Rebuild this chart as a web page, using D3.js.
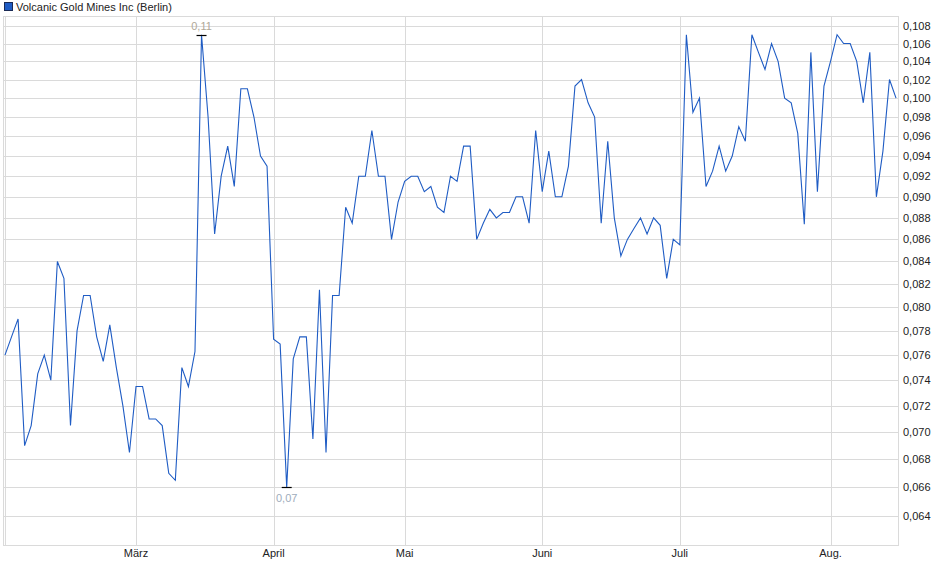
<!DOCTYPE html>
<html>
<head>
<meta charset="utf-8">
<script src="https://cdn.jsdelivr.net/npm/d3@7"></script>
<style>
body { margin: 0; background: #fff; }
text { font-family: "Liberation Sans", Arial, sans-serif; }
</style>
</head>
<body>
<div id="chart"></div>
<script>
var width = 940, height = 579;

var seriesName = "Volcanic Gold Mines Inc (Berlin)";

// closing prices per trading day (index 0 = first day shown)
var prices = [
  0.0760, 0.0775, 0.0790, 0.0690, 0.0705, 0.0745, 0.0760, 0.0740, 0.0840, 0.0825,
  0.0705, 0.0780, 0.0810, 0.0810, 0.0775, 0.0755, 0.0785, 0.0750, 0.0720, 0.0685,
  0.0735, 0.0735, 0.0710, 0.0710, 0.0705, 0.0670, 0.0665, 0.0750, 0.0735, 0.0763,
  0.1070, 0.0980, 0.0865, 0.0920, 0.0950, 0.0910, 0.1010, 0.1010, 0.0980, 0.0940,
  0.0930, 0.0773, 0.0769, 0.0660, 0.0757, 0.0775, 0.0775, 0.0695, 0.0815, 0.0685,
  0.0810, 0.0810, 0.0890, 0.0875, 0.0920, 0.0920, 0.0966, 0.0920, 0.0920, 0.0860,
  0.0895, 0.0915, 0.0920, 0.0920, 0.0905, 0.0910, 0.0890, 0.0885, 0.0920, 0.0915,
  0.0950, 0.0950, 0.0860, 0.0875, 0.0888, 0.0880, 0.0885, 0.0885, 0.0900, 0.0900,
  0.0875, 0.0966, 0.0905, 0.0945, 0.0900, 0.0900, 0.0930, 0.1013, 0.1020, 0.0995,
  0.0980, 0.0875, 0.0955, 0.0880, 0.0845, 0.0860, 0.0870, 0.0880, 0.0865, 0.0880,
  0.0873, 0.0825, 0.0860, 0.0855, 0.1070, 0.0985, 0.1000, 0.0910, 0.0925, 0.0950,
  0.0925, 0.0940, 0.0970, 0.0955, 0.1070, 0.1050, 0.1031, 0.1060, 0.1040, 0.1000,
  0.0995, 0.0963, 0.0874, 0.1050, 0.0905, 0.1013, 0.1040, 0.1070, 0.1060, 0.1060,
  0.1040, 0.0995, 0.1050, 0.0900, 0.0945, 0.1020, 0.1000
];

// month labels and the trading-day index where each month starts
var monthLabels = ["März", "April", "Mai", "Juni", "Juli", "Aug."];
var monthIndex = [20, 41, 61, 82, 103, 126];

var yTicks = [0.064, 0.066, 0.068, 0.070, 0.072, 0.074, 0.076, 0.078, 0.080, 0.082, 0.084,
  0.086, 0.088, 0.090, 0.092, 0.094, 0.096, 0.098, 0.100, 0.102, 0.104, 0.106, 0.108];

var plot = { left: 3, right: 898, top: 16, bottom: 545 };
var lineColor = "#1f5cc4", gridColor = "#dadada";

var fmt = function (d, n) { return d.toFixed(n).replace(".", ","); };

var x = d3.scaleLinear()
    .domain([-0.3, prices.length - 0.7])
    .range([plot.left, plot.right]);

var y = d3.scaleLog()
    .domain([0.06206, 0.10916])
    .range([plot.bottom, plot.top]);

var svg = d3.select("#chart").append("svg")
    .attr("width", width)
    .attr("height", height);

// legend
svg.append("rect")
    .attr("x", 4.5).attr("y", 2.5)
    .attr("width", 8).attr("height", 8)
    .style("fill", "#1f5cc4")
    .style("stroke", "#1a2a55");
svg.append("text")
    .attr("x", 16).attr("y", 10.5)
    .style("font-size", "11px")
    .style("fill", "#222")
    .text(seriesName);

// frame
svg.append("rect")
    .attr("x", plot.left + 0.5).attr("y", plot.top + 0.5)
    .attr("width", plot.right - plot.left).attr("height", plot.bottom - plot.top)
    .style("fill", "none")
    .style("stroke", gridColor);
svg.append("line")
    .attr("x1", x(0) + 0.5).attr("x2", x(0) + 0.5)
    .attr("y1", plot.top).attr("y2", plot.bottom)
    .style("stroke", gridColor);

// horizontal grid
svg.selectAll(".hgrid")
    .data(yTicks)
    .enter().append("line")
    .attr("class", "hgrid")
    .attr("x1", plot.left)
    .attr("x2", plot.right)
    .attr("y1", function (d) { return Math.round(y(d)) + 0.5; })
    .attr("y2", function (d) { return Math.round(y(d)) + 0.5; })
    .style("stroke", gridColor);

// vertical grid at month starts
svg.selectAll(".vgrid")
    .data(monthIndex)
    .enter().append("line")
    .attr("class", "vgrid")
    .attr("x1", function (d) { return Math.round(x(d)) + 0.5; })
    .attr("x2", function (d) { return Math.round(x(d)) + 0.5; })
    .attr("y1", plot.top)
    .attr("y2", plot.bottom)
    .style("stroke", gridColor);

// y axis labels on the right
svg.selectAll(".yLabel")
    .data(yTicks)
    .enter().append("text")
    .attr("class", "yLabel")
    .attr("x", plot.right + 5)
    .attr("y", function (d) { return y(d) + 4; })
    .style("font-size", "11px")
    .style("fill", "#222")
    .text(function (d) { return fmt(d, 3); });

// month labels
svg.selectAll(".xLabel")
    .data(monthLabels)
    .enter().append("text")
    .attr("class", "xLabel")
    .attr("x", function (d, i) { return x(monthIndex[i]); })
    .attr("y", 557)
    .style("text-anchor", "middle")
    .style("font-size", "11px")
    .style("fill", "#222")
    .text(function (d) { return d; });

// price line
var line = d3.line()
    .x(function (d, i) { return x(i); })
    .y(function (d) { return y(d); });

svg.append("path")
    .datum(prices)
    .attr("d", line)
    .style("fill", "none")
    .style("stroke", lineColor)
    .style("stroke-width", 1.1);

// high / low markers
var hi = d3.maxIndex(prices), lo = d3.minIndex(prices);
var marks = [
  { i: hi, v: prices[hi], dy: -5, color: "#b0a898" },
  { i: lo, v: prices[lo], dy: 15, color: "#9eacbc" }
];
marks.forEach(function (m) {
    svg.append("line")
        .attr("x1", x(m.i) - 5).attr("x2", x(m.i) + 5)
        .attr("y1", Math.round(y(m.v)) + 0.5).attr("y2", Math.round(y(m.v)) + 0.5)
        .style("stroke", "#000")
        .style("stroke-width", 1.2);
    svg.append("text")
        .attr("x", x(m.i))
        .attr("y", y(m.v) + m.dy)
        .style("text-anchor", "middle")
        .style("font-size", "11px")
        .style("fill", m.color)
        .text(fmt(m.v, 2));
});
</script>
</body>
</html>
